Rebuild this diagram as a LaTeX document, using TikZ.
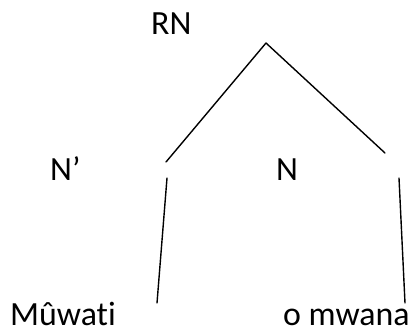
\documentclass[tikz,border=0pt]{standalone}
\usepackage{fontspec}
\setmainfont{Carlito}[Ligatures = NoCommon]
\begin{document}
\begin{tikzpicture}[line join = round, line cap = round, x = 1bp, y = -1bp,
  lbl/.style = {inner sep = 0pt, anchor = base west, font = \fontsize{34}{40}\selectfont},
  branch/.style = {line width = 1.4pt, black}]
\useasboundingbox (0,0) rectangle (414,330);
%Nhãn các nút
\node[lbl] (rn) at (151,34) {RN};
\node[lbl] (nprime) at (50,180) {N’};
\node[lbl] (n) at (276,180) {N};
\node[lbl] (muwati) at (10,325) {Mûwati};
\node[lbl] (omwana) at (283,325) {o mwana};
%Các điểm đầu mút
\coordinate (top) at (266,43);
\coordinate (l1) at (166,162);   \coordinate (r1) at (385,153);
\coordinate (l2) at (167,178);   \coordinate (l3) at (157,303);
\coordinate (r2) at (399,178);   \coordinate (r3) at (405,303);
%Vẽ các nhánh
\draw[branch] (l1)--(top)--(r1);
\draw[branch] (l2)--(l3) (r2)--(r3);
\end{tikzpicture}
\end{document}
